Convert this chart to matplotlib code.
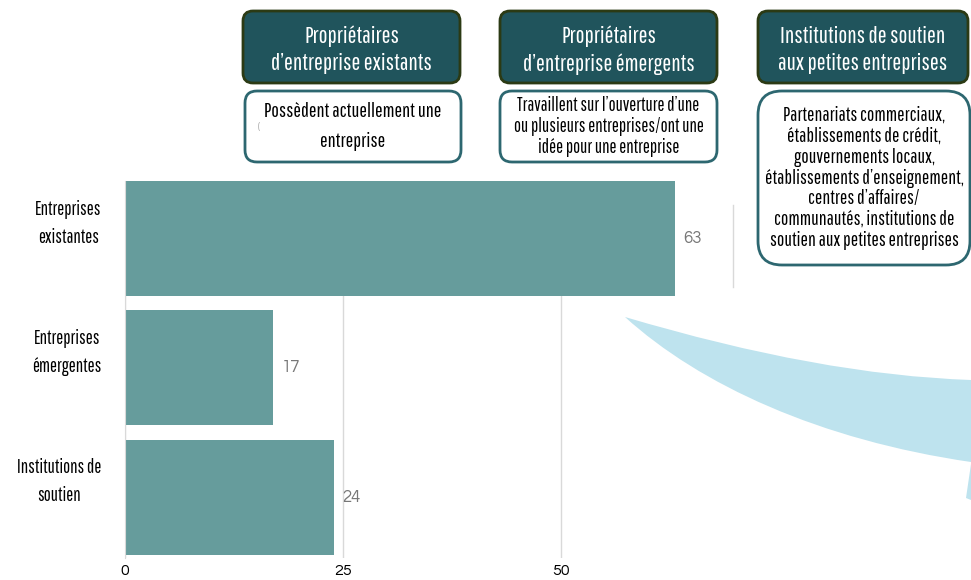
import matplotlib
matplotlib.use("Agg")
import matplotlib.pyplot as plt
from matplotlib.patches import FancyBboxPatch, PathPatch, Polygon
from matplotlib.path import Path
from matplotlib.lines import Line2D
import logging
logging.getLogger("matplotlib.font_manager").setLevel(logging.ERROR)

# -------------------- DATA --------------------
categories = ["Entreprises\nexistantes", "Entreprises\némergentes", "Institutions de\nsoutien"]
values = [63, 17, 24]
xticks = [0, 25, 50]

headers = ["Propriétaires\nd\u2019entreprise existants",
           "Propriétaires\nd\u2019entreprise émergents",
           "Institutions de soutien\naux petites entreprises"]
descriptions = ["Possèdent actuellement une\nentreprise",
                "Travaillent sur l\u2019ouverture d\u2019une\nou plusieurs entreprises/ont une\nidée pour une entreprise",
                "Partenariats commerciaux,\nétablissements de crédit,\ngouvernements locaux,\nétablissements d\u2019enseignement,\ncentres d\u2019affaires/\ncommunautés, institutions de\nsoutien aux petites entreprises"]

BAR_C = "#669c9c"
DARK = "#20545c"
DARK_EDGE = "#2b3a14"
BOX_EDGE = "#2d6770"
ARROW_C = "#bee3ee"
NARROW = ["Pathway Gothic One", "Archivo Narrow", "Liberation Sans Narrow", "DejaVu Sans"]
ROUND = ["Questrial", "Didact Gothic", "Lato", "DejaVu Sans"]

W, H = 971, 580
fig = plt.figure(figsize=(W / 100, H / 100), dpi=100)

def fx(px): return px / W
def fy(py): return 1 - py / H

# -------------------- BARS --------------------
ax = fig.add_axes([fx(125), fy(558), fx(733) - fx(125), (558 - 181) / H])
y = list(range(len(values)))
ax.barh(y, values, height=0.89, color=BAR_C, zorder=2)
ax.set_xlim(0, 69.7)
ax.set_ylim(2.471, -0.445)
# category labels sit a little above the bar centres, as in the original
label_lift = 0.17
ax.set_yticks([yi - label_lift for yi in y])
ax.set_yticklabels(categories, family=NARROW, fontsize=13.5, multialignment="center",
                   linespacing=1.6)
ax.set_xticks(xticks)
ax.set_xticklabels([str(t) for t in xticks], family=ROUND, fontsize=11.5)
ax.tick_params(axis="x", length=0, pad=4)
ax.tick_params(axis="y", length=0, pad=17)
for s in ["top", "right", "bottom"]:
    ax.spines[s].set_visible(False)
ax.spines["left"].set_color("#d9d9d9")
ax.xaxis.grid(True, color="#d9d9d9", lw=1, zorder=0)
ax.set_axisbelow(True)
for yi, v in zip(y, values):
    ax.annotate(str(v), (v, yi), xytext=(6, 0), textcoords="offset points",
                va="center", ha="left", family=ROUND, fontsize=12, color="#777777")

fig.add_artist(Line2D([fx(733)] * 2, [fy(205), fy(287)], color="#d9d9d9", lw=1))

# -------------------- ARROW --------------------
verts = [(625, 317), (820, 375), (971, 380),
         (971, 462), (820, 440), (700, 385), (625, 317)]
codes = [Path.MOVETO, Path.CURVE3, Path.CURVE3,
         Path.LINETO, Path.CURVE4, Path.CURVE4, Path.CURVE4]
arrow = Path([(fx(a), fy(b)) for a, b in verts], codes)
fig.add_artist(PathPatch(arrow, transform=fig.transFigure, fc=ARROW_C, ec="none"))
fig.add_artist(Polygon([(fx(971), fy(464)), (fx(966), fy(498)), (fx(971), fy(500))],
                       closed=True, transform=fig.transFigure, fc=ARROW_C, ec="none"))

# -------------------- CALLOUTS --------------------
head_boxes = [(243, 11, 460, 83), (500, 11, 717, 83), (758, 11, 968, 83)]
desc_boxes = [(245, 91, 461, 162), (500, 91, 717, 162), (758, 91, 970, 265)]
desc_spacing = [1.75, 1.12, 1.12]
desc_size = [14.5, 13.5, 14]
desc_round = [12, 12, 24]

def box(rect, fc, ec, lw, r):
    x0, y0, x1, y1 = rect
    p = FancyBboxPatch((x0 + r, H - y1 + r), (x1 - x0) - 2 * r, (y1 - y0) - 2 * r,
                       boxstyle=f"round,pad={r}", fc=fc, ec=ec, lw=lw,
                       transform=None)
    fig.add_artist(p)

for rect, txt in zip(head_boxes, headers):
    box(rect, DARK, DARK_EDGE, 2, 10)
    cx = (rect[0] + rect[2]) / 2
    cy = (rect[1] + rect[3]) / 2 + 3
    fig.text(fx(cx), fy(cy), txt, ha="center", va="center", color="white",
             family=NARROW, fontsize=17, linespacing=1.35)

for rect, txt, ls, fs, r in zip(desc_boxes, descriptions, desc_spacing, desc_size, desc_round):
    box(rect, "white", BOX_EDGE, 2, r)
    cx = (rect[0] + rect[2]) / 2
    cy = (rect[1] + rect[3]) / 2
    fig.text(fx(cx), fy(cy), txt, ha="center", va="center", color="black",
             family=NARROW, fontsize=fs, linespacing=ls)

fig.text(fx(259), fy(128), "(", ha="center", va="center", color="#999999",
         family=NARROW, fontsize=6)

fig.savefig("out.png", dpi=100)
